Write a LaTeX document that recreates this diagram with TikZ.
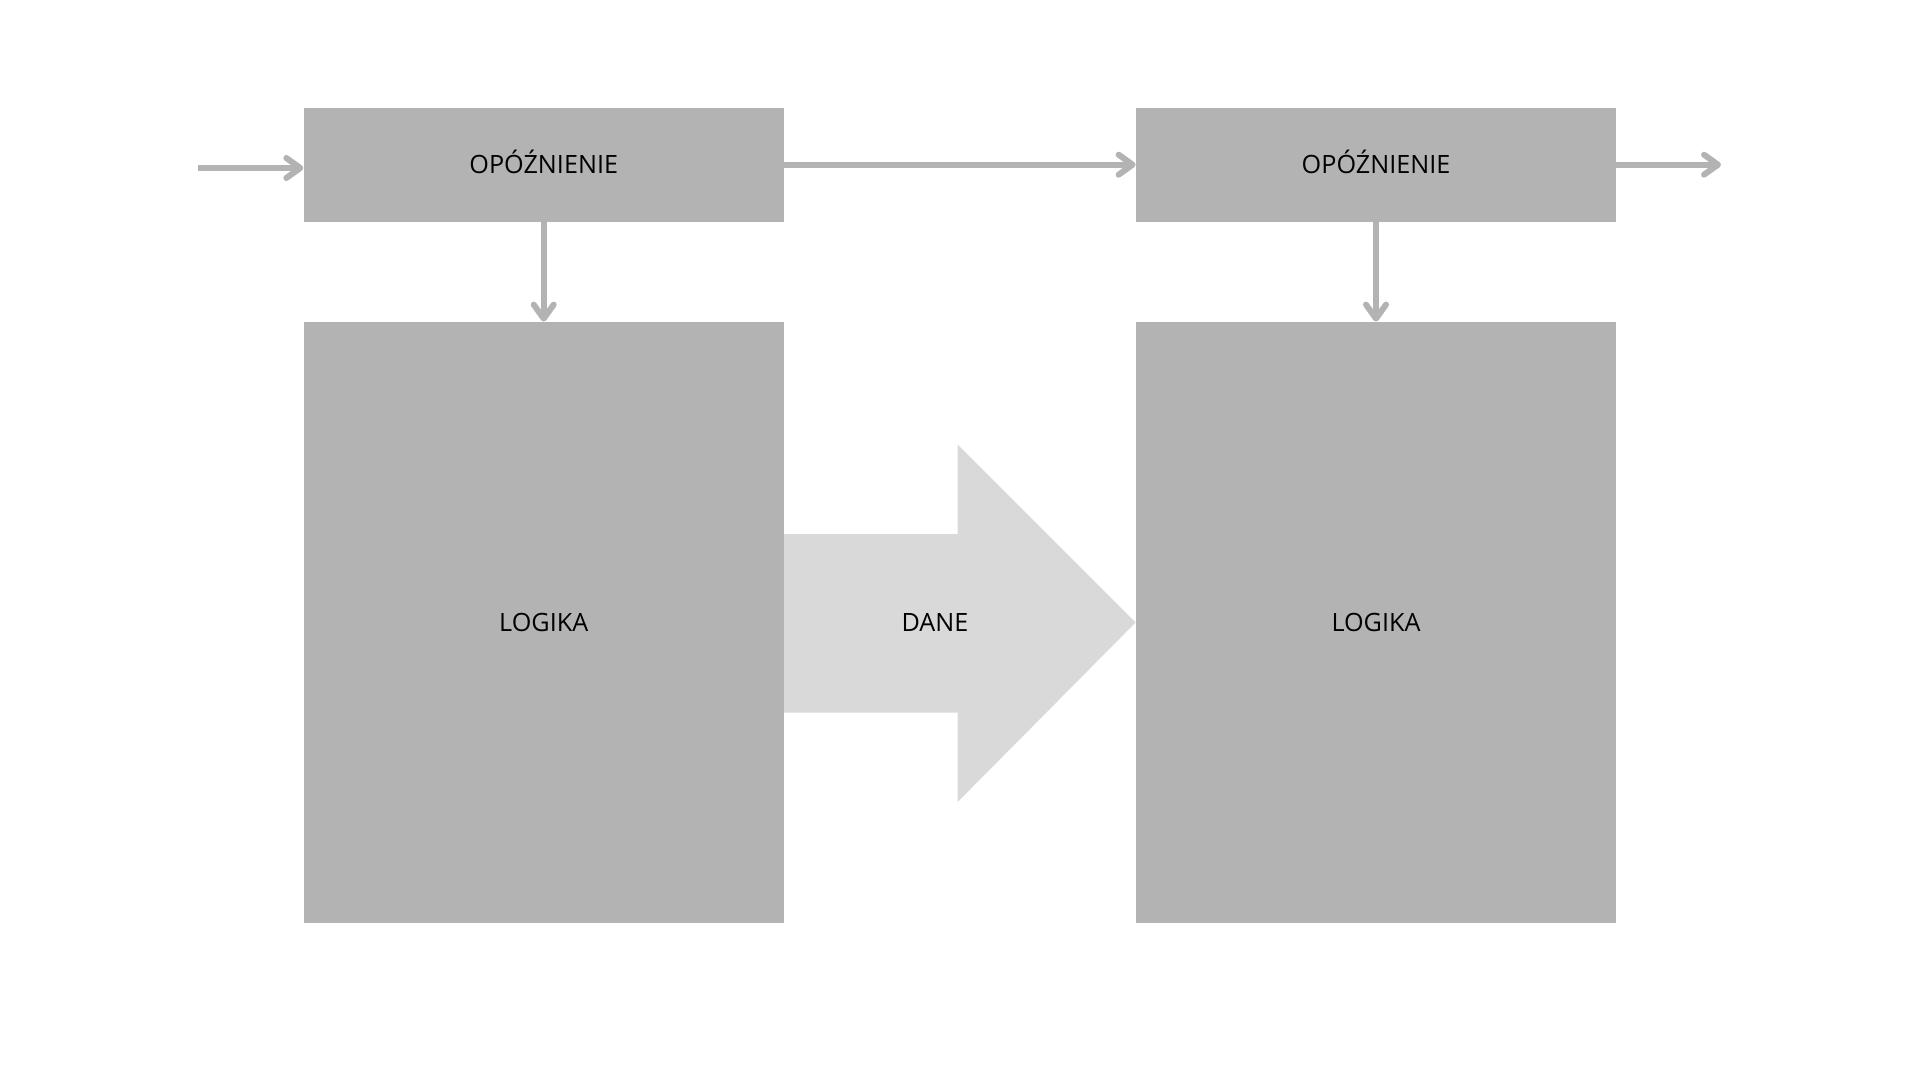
\documentclass[tikz,border=0pt]{standalone}
\usepackage{fontspec}
\setmainfont{Open Sans}
\usetikzlibrary{arrows.meta, positioning}
\definecolor{boxgray}{HTML}{B3B3B3}
\definecolor{flowgray}{HTML}{D9D9D9}
\tikzset{
    label text/.style={font=\fontsize{12.6}{15}\selectfont,
        text height=9pt, text depth=0pt},
    block/.style={label text, fill=boxgray, minimum width=240pt, inner sep=0pt},
    delay/.style={block, minimum height=57pt},
    logic/.style={block, minimum height=300.5pt},
    link/.style={draw=boxgray, line width=3pt,
        -{Straight Barb[length=7pt, width=10pt, round]}}
}

\begin{document}
\begin{tikzpicture}[x={(0.5pt,0)}, y={(0,-0.5pt)}]
        \useasboundingbox (0, 0) rectangle (1920, 1080);
        % Blocks
        \node [delay] (delay1) at (543.7, 164.7) {OPÓŹNIENIE};
        \node [delay] (delay2) at (1376, 164.7) {OPÓŹNIENIE};
        \node [logic] (logic1) at (543.7, 622.5) {LOGIKA};
        \node [logic] (logic2) at (1376, 622.5) {LOGIKA};
        % Data arrow
        \fill [flowgray] (logic1.east |- 0, 534) -- (957.6, 534) -- (957.6, 444.5)
            -- (logic2.west) -- (957.6, 802) -- (957.6, 712.7)
            -- (logic1.east |- 0, 712.7) -- cycle;
        \node [label text] (data) at (935, 622) {DANE};
        % Links
        \coordinate (in) at (198, 168);
        \coordinate (out) at (1721, 164.7);
        \draw [link] (in) -- (in -| delay1.west);
        \draw [link] (delay1) -- (delay2);
        \draw [link] (delay2) -- (out);
        \draw [link] (delay1) -- (logic1);
        \draw [link] (delay2) -- (logic2);
    \end{tikzpicture}
\end{document}
